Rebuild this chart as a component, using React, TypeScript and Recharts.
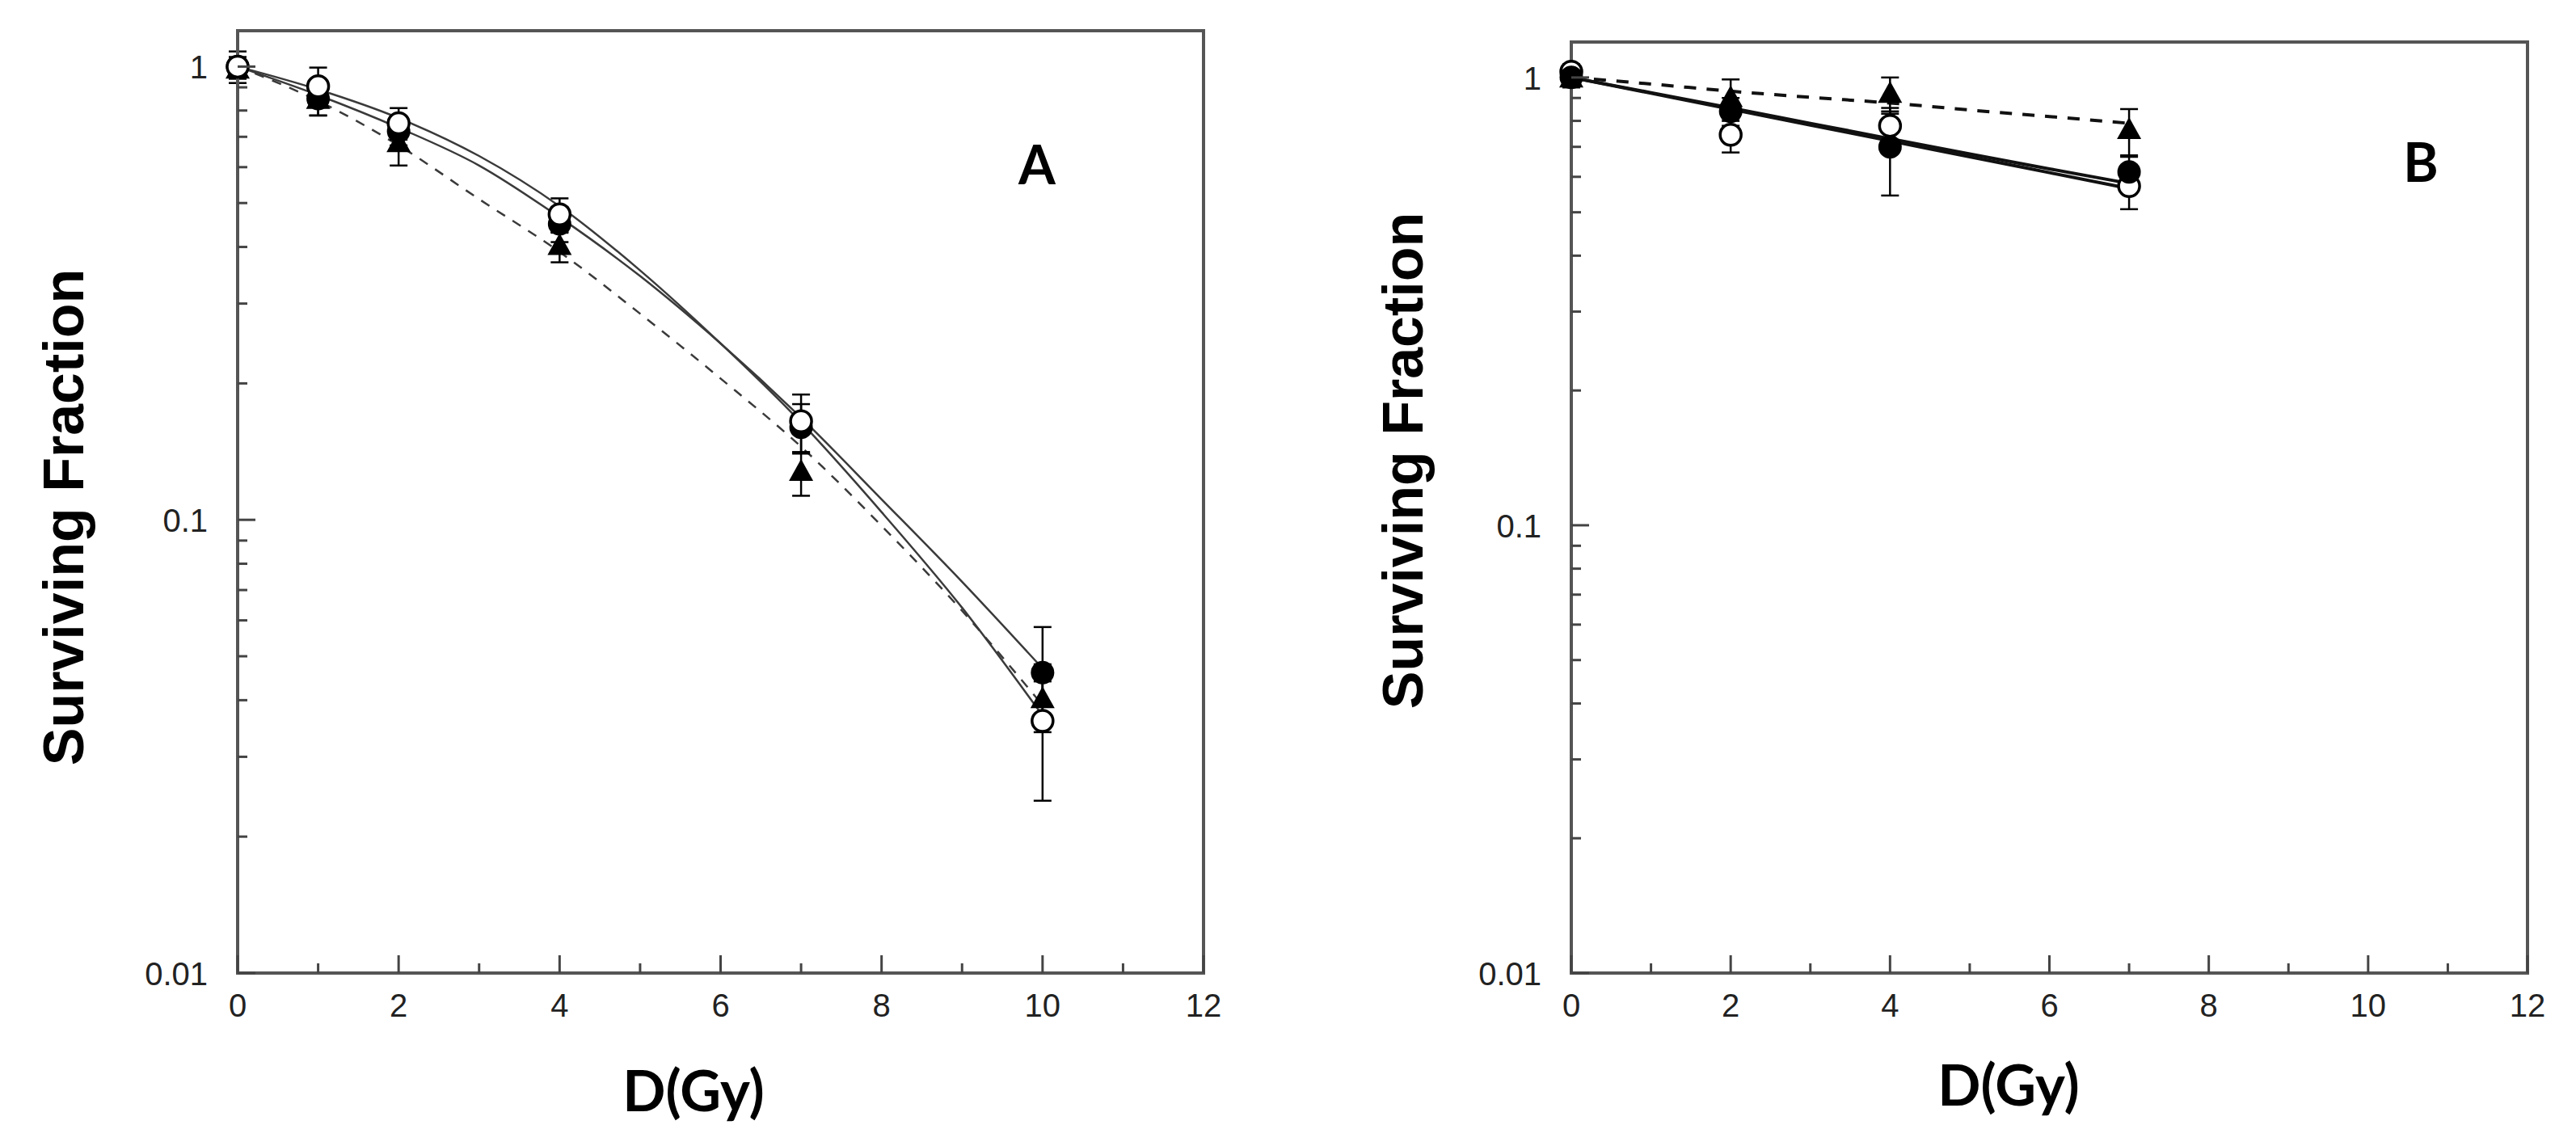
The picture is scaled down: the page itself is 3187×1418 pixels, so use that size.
import React from "react"
import { ComposedChart, ErrorBar, Line, Scatter, XAxis, YAxis } from "recharts"

// axis ticks
const doseTicks = [0, 1, 2, 3, 4, 5, 6, 7, 8, 9, 10, 11, 12]
const doseLabels = [0, 2, 4, 6, 8, 10, 12]
const sfTicks = [
  0.01, 0.02, 0.03, 0.04, 0.05, 0.06, 0.07, 0.08, 0.09, 0.1, 0.2, 0.3, 0.4, 0.5, 0.6, 0.7, 0.8, 0.9, 1,
]
const sfLabels = [0.01, 0.1, 1]

// panel A: measured points
const dosesA = [0, 1, 2, 4, 7, 10]
const filledA = [1.0, 0.85, 0.72, 0.45, 0.16, 0.046]
const filledErrA = [0.08, 0.07, 0.05, 0.04, 0.02, 0.012]
const openA = [1.0, 0.905, 0.75, 0.472, 0.165, 0.036]
const openErrA = [0.05, 0.09, 0.06, 0.04, 0.024, 0.012]
const triA = [0.98, 0.84, 0.675, 0.4, 0.127, 0.04]
const triErrA = [0.04, 0.06, 0.07, 0.03, 0.014, 0.004]

// panel A: fitted curves
const fitDosesA = [0, 1, 2, 3, 4, 5, 6, 7, 8, 9, 10]
const fitOpenA = [1, 0.89, 0.77, 0.635, 0.492, 0.355, 0.245, 0.164, 0.104, 0.064, 0.037]
const fitFilledA = [1, 0.865, 0.733, 0.605, 0.465, 0.345, 0.245, 0.168, 0.111, 0.073, 0.047]
const fitTriA = [1, 0.84, 0.67, 0.51, 0.39, 0.285, 0.205, 0.145, 0.097, 0.063, 0.039]

// panel B: measured points
const dosesB = [0, 2, 4, 7]
const filledB = [1.0, 0.84, 0.7, 0.615]
const filledErrB = [0.04, 0.06, 0.155, 0.05]
const openB = [1.03, 0.745, 0.78, 0.572]
const openErrB = [0.04, 0.065, 0.06, 0.064]
const triB = [0.99, 0.895, 0.915, 0.76]
const triErrB = [0.04, 0.095, 0.085, 0.09]

// panel B: fitted curves
const fitDosesB = [0, 1, 2, 3, 4, 5, 6, 7]
const fitFilledB = [1, 0.925, 0.855, 0.79, 0.73, 0.675, 0.625, 0.58]
const fitOpenB = [1, 0.922, 0.85, 0.783, 0.722, 0.665, 0.613, 0.565]
const fitTriB = [1, 0.967, 0.932, 0.903, 0.877, 0.846, 0.818, 0.79]

const AXIS = "#555"
const TICK = "#444"
const INK = "#222"
const SANS = '"Liberation Sans", Arial, sans-serif'
const TITLE_FONT = 'bold 70px "Liberation Sans", Arial, sans-serif'
const LETTER_FONT = 'bold 70px Lato, "Open Sans", sans-serif'
const PANEL_FONT = 'bold 66px Lato, "Open Sans", sans-serif'

const points = (xs: number[], ys: number[], errs: number[]) =>
  xs.map((x, i) => ({ x, y: ys[i], err: errs[i] }))
const curve = (xs: number[], ys: number[]) => xs.map((x, i) => ({ x, y: ys[i] }))

const OpenDot = (p: any) => <circle cx={p.cx} cy={p.cy} r={13} fill="#fff" stroke="#000" strokeWidth={3.5} />
const FilledDot = (p: any) => <circle cx={p.cx} cy={p.cy} r={14.5} fill="#000" />
const Triangle = (p: any) => (
  <polygon points={`${p.cx},${p.cy - 17} ${p.cx - 15},${p.cy + 10} ${p.cx + 15},${p.cy + 10}`} fill="#000" />
)

const xTick = (side: "bottom" | "top") => (props: any) => {
  const { x, y, payload } = props
  const major = doseLabels.includes(payload.value)
  const len = major ? 22 : 12
  const dir = side === "bottom" ? -1 : 1
  return (
    <g>
      <line x1={x} x2={x} y1={y} y2={y + dir * len} stroke={TICK} strokeWidth={3} />
      {side === "bottom" && major && (
        <text x={x} y={y + 54} textAnchor="middle" fontSize={40} fontFamily={SANS} fill={INK}>
          {payload.value}
        </text>
      )}
    </g>
  )
}

const yTick = (side: "left" | "right") => (props: any) => {
  const { x, y, payload } = props
  const major = sfLabels.includes(payload.value)
  const len = major ? 22 : 12
  const dir = side === "left" ? 1 : -1
  return (
    <g>
      <line x1={x} x2={x + dir * len} y1={y} y2={y} stroke={TICK} strokeWidth={3} />
      {side === "left" && major && (
        <text x={x - 37} y={y + 15} textAnchor="end" fontSize={40} fontFamily={SANS} fill={INK}>
          {String(payload.value)}
        </text>
      )}
    </g>
  )
}

interface PanelProps {
  width: number
  margin: { top: number; right: number; bottom: number; left: number }
  doses: number[]
  filled: number[]
  filledErr: number[]
  open: number[]
  openErr: number[]
  tri: number[]
  triErr: number[]
  fitDoses: number[]
  fitFilled: number[]
  fitOpen: number[]
  fitTri: number[]
  lineWidth: number
  lineColor: string
  dash: string
  order: ("filled" | "open" | "tri")[]
}

function Panel(p: PanelProps) {
  const axisLine = { stroke: AXIS, strokeWidth: 4, strokeLinecap: "square" as const }
  const series = {
    filled: (
      <Scatter key="filled" data={points(p.doses, p.filled, p.filledErr)} dataKey="y" shape={FilledDot} isAnimationActive={false}>
        <ErrorBar dataKey="err" direction="y" width={11} stroke="#000" strokeWidth={2.5} />
      </Scatter>
    ),
    open: (
      <Scatter key="open" data={points(p.doses, p.open, p.openErr)} dataKey="y" shape={OpenDot} isAnimationActive={false}>
        <ErrorBar dataKey="err" direction="y" width={11} stroke="#000" strokeWidth={2.5} />
      </Scatter>
    ),
    tri: (
      <Scatter key="tri" data={points(p.doses, p.tri, p.triErr)} dataKey="y" shape={Triangle} isAnimationActive={false}>
        <ErrorBar dataKey="err" direction="y" width={11} stroke="#000" strokeWidth={2.5} />
      </Scatter>
    ),
  }
  return (
    <ComposedChart width={p.width} height={1418} margin={p.margin}>
      <XAxis
        dataKey="x"
        type="number"
        domain={[0, 12]}
        ticks={doseTicks}
        interval={0}
        height={1}
        tickSize={0}
        tickMargin={0}
        tickLine={false}
        axisLine={axisLine}
        tick={xTick("bottom")}
      />
      <XAxis
        xAxisId="top"
        orientation="top"
        dataKey="x"
        type="number"
        domain={[0, 12]}
        ticks={doseTicks}
        interval={0}
        height={1}
        tickSize={0}
        tickMargin={0}
        tickLine={false}
        axisLine={axisLine}
        tick={xTick("top")}
      />
      <YAxis
        dataKey="y"
        type="number"
        scale="log"
        domain={[0.01, 1.2]}
        ticks={sfTicks}
        interval={0}
        width={1}
        tickSize={0}
        tickMargin={0}
        tickLine={false}
        axisLine={axisLine}
        tick={yTick("left")}
      />
      <YAxis
        yAxisId="right"
        orientation="right"
        dataKey="y"
        type="number"
        scale="log"
        domain={[0.01, 1.2]}
        ticks={sfTicks}
        interval={0}
        width={1}
        tickSize={0}
        tickMargin={0}
        tickLine={false}
        axisLine={axisLine}
        tick={yTick("right")}
      />
      <Line data={curve(p.fitDoses, p.fitFilled)} dataKey="y" type="monotone" stroke={p.lineColor} strokeWidth={p.lineWidth} dot={false} isAnimationActive={false} />
      <Line data={curve(p.fitDoses, p.fitOpen)} dataKey="y" type="monotone" stroke={p.lineColor} strokeWidth={p.lineWidth} dot={false} isAnimationActive={false} />
      <Line
        data={curve(p.fitDoses, p.fitTri)}
        dataKey="y"
        type="monotone"
        stroke={p.lineColor}
        strokeWidth={p.lineWidth}
        strokeDasharray={p.dash}
        dot={false}
        isAnimationActive={false}
      />
      {p.order.map((k) => series[k])}
    </ComposedChart>
  )
}

const abs = (left: number, top: number): React.CSSProperties => ({ position: "absolute", left, top })

const rotated = (cx: number, cy: number): React.CSSProperties => ({
  position: "absolute",
  left: cx,
  top: cy,
  transform: "translate(-50%, -50%) rotate(-90deg)",
  whiteSpace: "nowrap",
  font: TITLE_FONT,
  lineHeight: 1,
  color: "#000",
})

const centered = (cx: number, cy: number, font: string): React.CSSProperties => ({
  position: "absolute",
  left: cx,
  top: cy,
  transform: "translate(-50%, -50%)",
  whiteSpace: "nowrap",
  font,
  lineHeight: 1,
  color: "#000",
})

export default function App() {
  return (
    <div style={{ position: "absolute", left: 0, top: 0, width: 3187, height: 1418, background: "#fff", overflow: "hidden" }}>
      <div style={abs(0, 0)}>
        <Panel
          width={1600}
          margin={{ top: 37, right: 110, bottom: 213, left: 293 }}
          doses={dosesA}
          filled={filledA}
          filledErr={filledErrA}
          open={openA}
          openErr={openErrA}
          tri={triA}
          triErr={triErrA}
          fitDoses={fitDosesA}
          fitFilled={fitFilledA}
          fitOpen={fitOpenA}
          fitTri={fitTriA}
          lineWidth={2.5}
          lineColor="#3a3a3a"
          dash="12 11"
          order={["tri", "filled", "open"]}
        />
      </div>
      <div style={abs(1600, 0)}>
        <Panel
          width={1587}
          margin={{ top: 51, right: 59, bottom: 213, left: 343 }}
          doses={dosesB}
          filled={filledB}
          filledErr={filledErrB}
          open={openB}
          openErr={openErrB}
          tri={triB}
          triErr={triErrB}
          fitDoses={fitDosesB}
          fitFilled={fitFilledB}
          fitOpen={fitOpenB}
          fitTri={fitTriB}
          lineWidth={4}
          lineColor="#111"
          dash="15 13"
          order={["open", "filled", "tri"]}
        />
      </div>

      <div style={rotated(79, 640)}>Surviving Fraction</div>
      <div style={rotated(1736, 570)}>Surviving Fraction</div>
      <div style={centered(858, 1348, LETTER_FONT)}>D(Gy)</div>
      <div style={centered(2485, 1341, LETTER_FONT)}>D(Gy)</div>
      <div style={centered(1283, 203, PANEL_FONT)}>A</div>
      <div style={centered(2995, 200, PANEL_FONT)}>B</div>
    </div>
  )
}
